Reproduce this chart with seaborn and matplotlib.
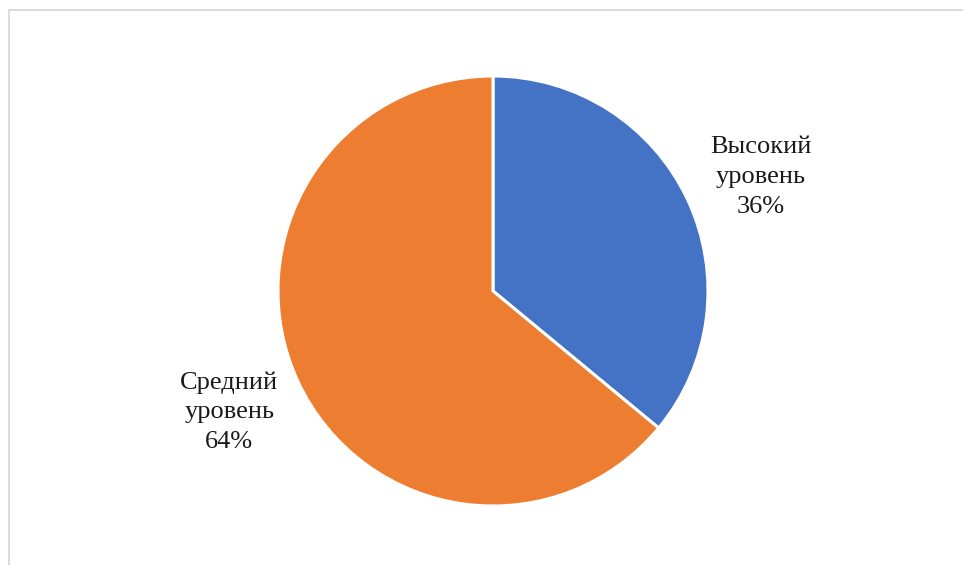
import matplotlib
matplotlib.use("Agg")
import matplotlib.pyplot as plt
import matplotlib.patches as mpatches
import seaborn as sns

# data
categories = ["Высокий\nуровень", "Средний\nуровень"]
shares = [36, 64]
pct_labels = ["36%", "64%"]
colors = ["#4472C4", "#ED7D31"]

sns.set_style("white")
plt.rcParams['font.family'] = ['Liberation Serif', 'DejaVu Serif']

W, H = 963, 565
fig = plt.figure(figsize=(W / 100, H / 100), dpi=100)
ax = fig.add_axes([0, 0, 1, 1])

labels = [f"{c}\n{p}" for c, p in zip(categories, pct_labels)]
wedges, texts = ax.pie(shares, labels=labels, colors=colors, startangle=90,
                       counterclock=False, center=(493, H - 291), radius=215,
                       labeldistance=1.355,
                       wedgeprops=dict(edgecolor="white", linewidth=2.2),
                       textprops=dict(fontsize=19, color="#1a1a1a"))
# small nudges so labels sit where the original put them
nudges = [(4, -10), (0, 3)]
for t, (dx, dy) in zip(texts, nudges):
    t.set_ha("center")
    t.set_multialignment("center")
    t.set_linespacing(1.45)
    x, y = t.get_position()
    t.set_position((x + dx, y + dy))

ax.set_xlim(0, W)
ax.set_ylim(0, H)
ax.set_aspect("equal")
ax.axis("off")

# light outer frame (only top and left visible in the crop)
top = 1 - 9.5 / H
frame = mpatches.Rectangle((8.5 / W, -0.2), 1.2, top + 0.2,
                           transform=fig.transFigure, fill=False,
                           edgecolor="#d9d9d9", linewidth=1.3)
fig.patches.append(frame)

fig.savefig("out.png", dpi=100, facecolor="white")
